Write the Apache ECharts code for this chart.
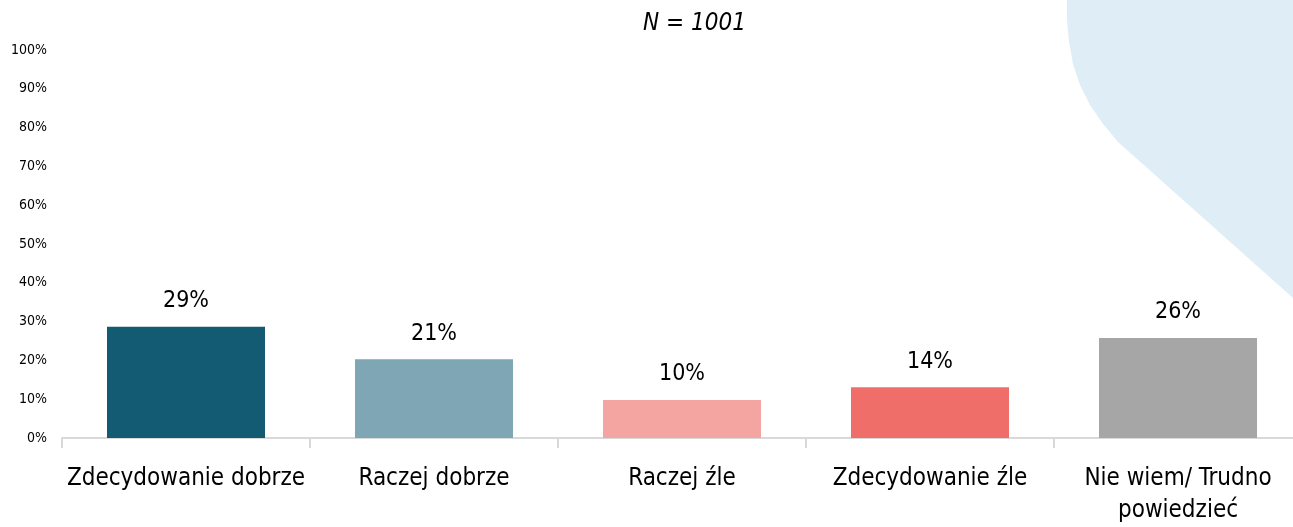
<!DOCTYPE html>
<html>
<head>
<meta charset="utf-8">
<script src="https://cdn.jsdelivr.net/npm/echarts@6/dist/echarts.min.js"></script>
<style>
  html, body { margin: 0; padding: 0; background: #fff; overflow: hidden; }
  #chart { width: 1293px; height: 527px; overflow: hidden; }
</style>
</head>
<body>
<div id="chart"></div>
<script>
const categories = ['Zdecydowanie dobrze', 'Raczej dobrze', 'Raczej źle', 'Zdecydowanie źle', 'Nie wiem/ Trudno\npowiedzieć']
const values = [28.7, 20.3, 9.8, 13.1, 25.8]
const valueLabels = ['29%', '21%', '10%', '14%', '26%']
const barColors = ['#125b72', '#7ea6b4', '#f4a5a2', '#f06e69', '#a6a6a6']
const yTicks = [0, 10, 20, 30, 40, 50, 60, 70, 80, 90, 100]

const font = '"DejaVu Sans Condensed", "Liberation Sans Narrow", sans-serif'
// the plot runs a little past the right edge of the window, as in the original slide,
// so the canvas is wider than its (clipping) container
const chart = echarts.init(document.getElementById('chart'), null, { width: 1302, height: 527 })

// decorative background shape in the top-right corner
const blob = [
  [1067, 0], [1067, 20], [1069, 42], [1073, 64], [1080, 85], [1090, 105],
  [1103, 124], [1118, 142], [1302, 306], [1302, 0]
]

const option = {
  animation: false,
  graphic: [
    {
      type: 'polygon',
      z: -10,
      silent: true,
      shape: { points: blob },
      style: { fill: '#dfeef6' }
    },
    {
      type: 'text',
      left: 643,
      top: 12,
      style: {
        text: 'N = 1001',
        font: 'italic 24px ' + font,
        fill: '#000'
      }
    }
  ],
  grid: {
    left: 62,
    right: 0,
    top: 50,
    bottom: 85,
    containLabel: false
  },
  xAxis: {
    type: 'category',
    data: categories,
    axisLine: { lineStyle: { color: '#d9d9d9', width: 2 } },
    axisTick: { show: true, length: 10, lineStyle: { color: '#d9d9d9', width: 2 } },
    axisLabel: {
      interval: 0,
      color: '#000',
      fontSize: 24,
      fontFamily: font,
      lineHeight: 32,
      margin: 25
    }
  },
  yAxis: {
    type: 'value',
    min: 0,
    max: 100,
    interval: 10,
    axisLine: { show: false },
    axisTick: { show: false },
    splitLine: { show: false },
    axisLabel: {
      color: '#000',
      fontSize: 14,
      fontFamily: font,
      margin: 15,
      formatter: function (v) {
        return yTicks.indexOf(v) >= 0 ? v + '%' : ''
      }
    }
  },
  series: [{
    type: 'bar',
    barWidth: 158,
    data: values.map(function (v, i) {
      return { value: v, itemStyle: { color: barColors[i] } }
    }),
    label: {
      show: true,
      position: 'top',
      distance: 14,
      color: '#000',
      fontSize: 23,
      fontFamily: font,
      formatter: function (p) { return valueLabels[p.dataIndex] }
    }
  }]
}

chart.setOption(option)
</script>
</body>
</html>
